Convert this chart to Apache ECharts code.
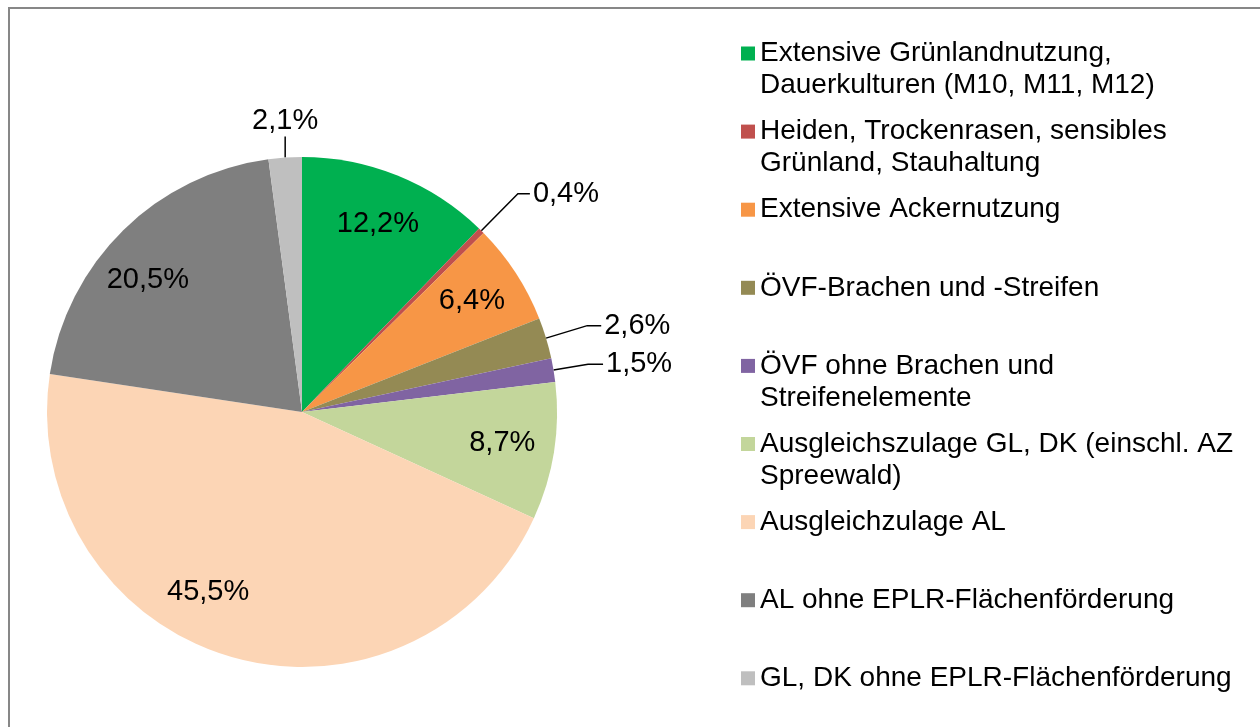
<!DOCTYPE html>
<html>
<head>
<meta charset="utf-8">
<script src="https://cdn.jsdelivr.net/npm/echarts@6/dist/echarts.min.js"></script>
<style>
  html, body { margin: 0; padding: 0; background: #fff; }
  #chart { width: 1260px; height: 727px; }
</style>
</head>
<body>
<div id="chart"></div>
<script>
  const categories = [
    'Extensive Grünlandnutzung,\nDauerkulturen (M10, M11, M12)',
    'Heiden, Trockenrasen, sensibles\nGrünland, Stauhaltung',
    'Extensive Ackernutzung',
    'ÖVF-Brachen und -Streifen',
    'ÖVF ohne Brachen und\nStreifenelemente',
    'Ausgleichszulage GL, DK (einschl. AZ\nSpreewald)',
    'Ausgleichzulage AL',
    'AL ohne EPLR-Flächenförderung',
    'GL, DK ohne EPLR-Flächenförderung',
  ];
  const shares = [12.2, 0.4, 6.4, 2.6, 1.5, 8.7, 45.5, 20.5, 2.1];
  const colors = [
    '#00B050', '#C0504D', '#F79646', '#948A54', '#8064A2',
    '#C3D69B', '#FCD5B5', '#7F7F7F', '#BFBFBF',
  ];
  const labelPlacement = [
    'inside', 'outside', 'inside', 'outside', 'outside',
    'inside', 'inside', 'inside', 'top',
  ];
  // best-fit nudges of the inside labels, in degrees (clockwise)
  const labelTurn = [0, 0, 0, 0, 0, 0, 11, -5, 0];

  const font = "'Liberation Sans', Arial, sans-serif";
  const cx = 302;
  const cy = 412;
  const radius = 255;
  const lineH = 32;
  const legendFirst = 53.5;
  const legendStep = 78.1;

  const chart = echarts.init(document.getElementById('chart'), null, {renderer: 'canvas'});

  const pieData = categories.map((name, i) => {
    const place = labelPlacement[i];
    const item = {
      name,
      value: shares[i],
      itemStyle: {color: colors[i]},
      label: {position: place === 'inside' ? 'inside' : 'outside'},
    };
    if (place === 'inside') item.labelLine = {show: false};
    if (place === 'top') item.labelLine = {length: 21, length2: 0};
    if (i === 1) item.labelLine = {length: 52, length2: 12};
    if (i === 4) item.labelLine = {length: 35, length2: 15};
    return item;
  });

  // one legend per item so the marker sits on the first text line
  const legends = categories.map((name, i) => {
    const twoLines = name.includes('\n');
    return {
      orient: 'vertical',
      left: 741,
      top: legendFirst + i * legendStep - lineH / 2 - (twoLines ? lineH : 0),
      padding: 0,
      itemWidth: 14,
      itemHeight: 14,
      itemGap: 0,
      icon: 'rect',
      selectedMode: false,
      formatter: (n) => (n.includes('\n') ? ' \n' + n : n),
      textStyle: {fontSize: 28, lineHeight: lineH, color: '#000', fontFamily: font},
      data: [name],
    };
  });

  chart.setOption({
    animation: false,
    backgroundColor: '#fff',
    legend: legends,
    graphic: [{
      type: 'rect',
      shape: {x: 9, y: 8, width: 1320, height: 800},
      style: {fill: 'none', stroke: '#878787', lineWidth: 2},
      silent: true,
    }],
    series: [{
      type: 'pie',
      center: [cx, cy],
      radius: [0, radius],
      startAngle: 90,
      clockwise: true,
      avoidLabelOverlap: false,
      itemStyle: {borderWidth: 0},
      label: {
        color: '#000',
        fontSize: 29,
        lineHeight: lineH,
        fontFamily: font,
        distanceToLabelLine: 3,
        formatter: (p) => p.value.toFixed(1).replace('.', ',') + '%',
      },
      labelLine: {
        show: true,
        length: 43,
        length2: 14,
        lineStyle: {color: '#000', width: 1.5},
      },
      labelLayout: (params) => {
        const i = params.dataIndex;
        const place = labelPlacement[i];
        if (place === 'inside') {
          const r = params.labelRect;
          const lx = r.x + r.width / 2;
          const ly = r.y + r.height / 2;
          const angle = Math.atan2(ly - cy, lx - cx) + labelTurn[i] * Math.PI / 180;
          const dist = radius * 0.795;
          return {
            x: cx + Math.cos(angle) * dist,
            y: cy + Math.sin(angle) * dist,
            align: 'center',
            verticalAlign: 'middle',
          };
        }
        if (place === 'top' && params.labelLinePoints) {
          const p = params.labelLinePoints;
          const end = [p[0][0], p[1][1]];
          return {x: p[0][0], y: end[1], align: 'center', verticalAlign: 'bottom', labelLinePoints: [p[0], end, end]};
        }
        return {};
      },
      data: pieData,
    }],
  });
</script>
</body>
</html>
